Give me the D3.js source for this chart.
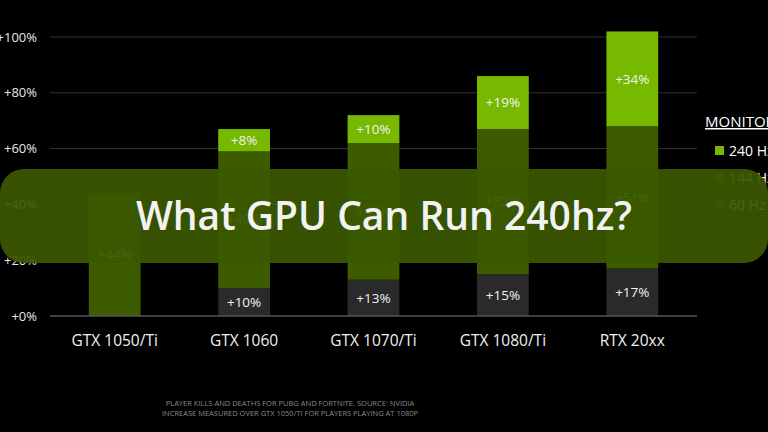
<!doctype html>
<html>
<head>
  <meta charset="utf8"/>
  <style>
    body { margin: 0; background: #000; }
    svg { display: block; background: #000; }
    .tick-label { fill: #e8e8e8; font: 13px 'Open Sans', sans-serif; }
    .cat-label { fill: #f0f0f0; font: 15.5px 'Open Sans', sans-serif; }
    .seg-label { fill: #f2f2f2; font: 13.5px 'Open Sans', sans-serif; }
  </style>
</head>
<body>
  <svg width='768' height='432'></svg>
  <script src="https://d3js.org/d3.v7.min.js"></script>
  <script>

    // values
    var gpus = ['GTX 1050/Ti', 'GTX 1060', 'GTX 1070/Ti', 'GTX 1080/Ti', 'RTX 20xx'];
    var hz60 = [0, 10, 13, 15, 17];
    var hz144 = [44, 49, 49, 52, 51];
    var hz240 = [0, 8, 10, 19, 34];
    var yTicks = [0, 20, 40, 60, 80, 100];
    var legendNames = ['240 Hz', '144 Hz', '60 Hz'];
    var footer = ['PLAYER KILLS AND DEATHS FOR PUBG AND FORTNITE. SOURCE: NVIDIA',
                  'INCREASE MEASURED OVER GTX 1050/TI FOR PLAYERS PLAYING AT 1080P'];
    var title = 'What GPU Can Run 240hz?';

    var keys = ['hz60', 'hz144', 'hz240'];
    var colors = {hz60: '#2a2a2a', hz144: '#3d5c00', hz240: '#76b900'};

    var rows = gpus.map(function(g, i) {
      return {gpu: g, hz60: hz60[i], hz144: hz144[i], hz240: hz240[i]};
    });

    var svg = d3.select('svg'),
        margin = {top: 37, right: 71, bottom: 116, left: 50},
        width = +svg.attr('width') - margin.left - margin.right,
        height = +svg.attr('height') - margin.top - margin.bottom,
        g = svg.append('g').attr('transform',
                                 'translate(' + margin.left + ',' + margin.top + ')');

    var x = d3.scaleBand().domain(gpus).range([0, width]).paddingInner(0.6).paddingOuter(0.3);
    var y = d3.scaleLinear().domain([0, 100]).range([height, 0]);

    // grid lines + tick labels
    g.selectAll('.grid')
      .data(yTicks.filter(function(d) { return d > 0; }))
      .enter().append('line')
        .attr('x1', 0).attr('x2', width)
        .attr('y1', function(d) { return y(d); })
        .attr('y2', function(d) { return y(d); })
        .attr('stroke', '#333').attr('stroke-width', 1);

    g.selectAll('.tick-label')
      .data(yTicks)
      .enter().append('text')
        .attr('class', 'tick-label')
        .attr('x', -13)
        .attr('y', function(d) { return y(d); })
        .attr('dy', '0.35em')
        .attr('text-anchor', 'end')
        .text(function(d) { return '+' + d + '%'; });

    var stack = d3.stack().keys(keys)(rows);

    var layer = g.selectAll('.layer')
      .data(stack)
      .enter().append('g')
        .attr('fill', function(d) { return colors[d.key]; });

    layer.selectAll('rect')
      .data(function(d) { return d; })
      .enter().append('rect')
        .attr('x', function(d) { return x(d.data.gpu); })
        .attr('width', x.bandwidth())
        .attr('y', function(d) { return y(d[1]); })
        .attr('height', function(d) { return y(d[0]) - y(d[1]); });

    stack.forEach(function(s) {
      g.selectAll(null)
        .data(s.filter(function(d) { return d[1] - d[0] > 0; }))
        .enter().append('text')
          .attr('class', 'seg-label')
          .attr('x', function(d) { return x(d.data.gpu) + x.bandwidth() / 2; })
          .attr('y', function(d) { return y((d[0] + d[1]) / 2); })
          .attr('dy', '0.35em')
          .attr('text-anchor', 'middle')
          .text(function(d) { return '+' + (d[1] - d[0]) + '%'; });
    });

    // baseline
    g.append('line')
      .attr('x1', 0).attr('x2', width)
      .attr('y1', y(0)).attr('y2', y(0))
      .attr('stroke', '#555').attr('stroke-width', 1.5);

    g.selectAll('.cat-label')
      .data(gpus)
      .enter().append('text')
        .attr('class', 'cat-label')
        .attr('x', function(d) { return x(d) + x.bandwidth() / 2; })
        .attr('y', y(0) + 30)
        .attr('text-anchor', 'middle')
        .text(function(d) { return d; });

    // legend
    var lg = svg.append('g').attr('transform', 'translate(705,127)');
    lg.append('text')
      .attr('fill', '#fff')
      .style('font', '15px "Open Sans", sans-serif')
      .style('text-decoration', 'underline')
      .text('MONITOR');
    var legendColors = [colors.hz240, colors.hz144, colors.hz60];
    legendNames.forEach(function(n, i) {
      lg.append('rect')
        .attr('x', 10).attr('y', 19 + i * 27)
        .attr('width', 9).attr('height', 9)
        .attr('fill', legendColors[i]);
      lg.append('text')
        .attr('x', 24).attr('y', 24 + i * 27)
        .attr('dy', '0.35em')
        .attr('fill', '#fff')
        .style('font', '14px "Open Sans", sans-serif')
        .text(n);
    });

    // footer note
    svg.selectAll('.foot')
      .data(footer)
      .enter().append('text')
        .attr('x', 290)
        .attr('y', function(d, i) { return 406 + i * 9.5; })
        .attr('text-anchor', 'middle')
        .attr('fill', '#8a8a8a')
        .style('font', '7.5px "Open Sans", sans-serif')
        .text(function(d) { return d; });

    // title banner over the chart
    svg.append('rect')
      .attr('x', 0).attr('y', 169)
      .attr('width', 768).attr('height', 94)
      .attr('rx', 24)
      .attr('fill', '#3a5800')
      .attr('fill-opacity', 0.93);

    svg.append('text')
      .attr('x', 384).attr('y', 216)
      .attr('dy', '0.35em')
      .attr('text-anchor', 'middle')
      .attr('fill', '#f2f2f2')
      .style('font', '600 39px "Open Sans", sans-serif')
      .text(title);

  </script>
</body>
</html>
